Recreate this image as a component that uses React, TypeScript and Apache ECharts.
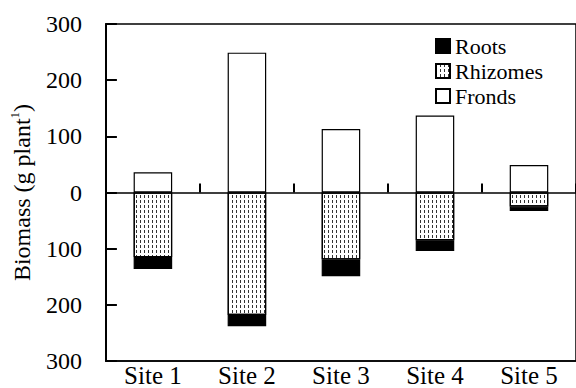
import React, { useEffect, useRef } from "react";
import * as echarts from "echarts";

const categories = ["Site 1", "Site 2", "Site 3", "Site 4", "Site 5"];
const fronds = [36, 249, 113, 137, 49];
const rhizomes = [115, 218, 119, 85, 25];
const roots = [21, 20, 30, 19, 8];
const yTicks = { min: -300, max: 300, interval: 100 };

const FONT = "Liberation Serif";

export default function App() {
  const ref = useRef<HTMLDivElement>(null);
  useEffect(() => {
    if (!ref.current) return;
    const chart = echarts.init(ref.current, null, { renderer: "svg" });
    const border = { borderColor: "#000", borderWidth: 1.2 };
    const txt = (size: number) => ({ fontFamily: FONT, fontSize: size, color: "#000" });
    chart.setOption({
      animation: false,
      backgroundColor: "#fff",
      grid: {
        left: 104,
        top: 24,
        right: -1,
        bottom: 27,
        show: true,
        borderColor: "#000",
        borderWidth: 1.5,
        backgroundColor: "transparent",
      },
      legend: {
        orient: "vertical",
        left: 430,
        top: 30,
        icon: "rect",
        itemWidth: 14,
        itemHeight: 14,
        itemGap: 3,
        data: ["Roots", "Rhizomes", "Fronds"],
        textStyle: txt(22),
      },
      xAxis: [
        {
          type: "category",
          data: categories,
          position: "bottom",
          axisLine: { onZero: false, lineStyle: { color: "#000", width: 1.5 } },
          axisTick: { show: false },
          axisLabel: { margin: 2, ...txt(25) },
        },
        {
          type: "category",
          data: categories,
          position: "bottom",
          axisLine: { onZero: true, lineStyle: { color: "#000", width: 1.5 } },
          axisTick: { show: true, inside: true, length: 9, lineStyle: { color: "#000", width: 2 } },
          axisLabel: { show: false },
        },
      ],
      yAxis: {
        type: "value",
        min: yTicks.min,
        max: yTicks.max,
        interval: yTicks.interval,
        splitLine: { show: false },
        axisLine: { show: true, lineStyle: { color: "#000", width: 2 } },
        axisTick: { show: true, inside: true, length: 11, lineStyle: { color: "#000", width: 2 } },
        axisLabel: {
          margin: 24,
          ...txt(24),
          formatter: (v: number) => String(Math.abs(v)),
        },
        name: "Biomass (g plant{sup|1})",
        nameLocation: "middle",
        nameGap: 63,
        nameTextStyle: {
          ...txt(24),
          lineHeight: 27,
          rich: {
            sup: { ...txt(13), verticalAlign: "top", lineHeight: 27 },
          },
        },
      },
      series: [
        {
          name: "Rhizomes",
          type: "bar",
          stack: "total",
          barWidth: "41%",
          data: rhizomes.map((v) => -v),
          itemStyle: {
            color: "#fff",
            ...border,
            decal: {
              symbol: "rect",
              symbolSize: 1,
              color: "#333",
              dashArrayX: [1, 3],
              dashArrayY: [3, 2],
            },
          },
        },
        {
          name: "Roots",
          type: "bar",
          stack: "total",
          barWidth: "41%",
          data: roots.map((v) => -v),
          itemStyle: { color: "#000", ...border },
        },
        {
          name: "Fronds",
          type: "bar",
          stack: "total",
          barWidth: "41%",
          data: fronds,
          itemStyle: { color: "#fff", ...border },
        },
      ],
    });
    return () => chart.dispose();
  }, []);
  return (
    <div
      ref={ref}
      style={{ position: "absolute", left: 0, top: 0, width: 576, height: 388 }}
    />
  );
}
